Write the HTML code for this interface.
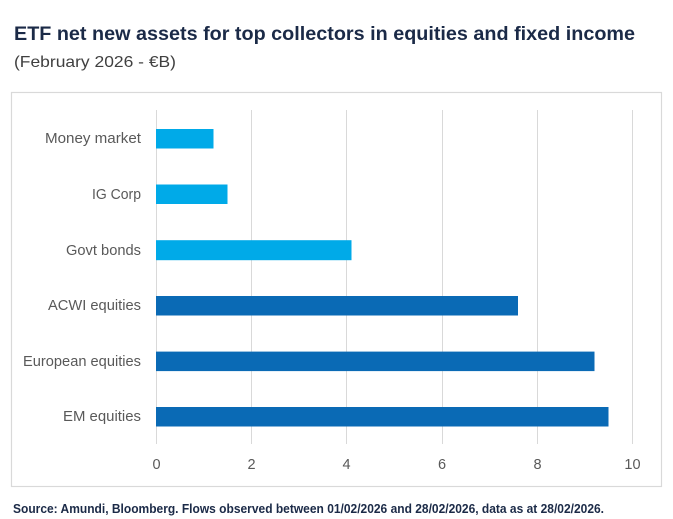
<!DOCTYPE html>
<html>
<head>
<meta charset="utf-8">
<style>
  html,body{margin:0;padding:0;background:#fff;}
  svg{display:block;}
  text{font-family:"Liberation Sans", sans-serif;}
</style>
</head>
<body>
<svg width="673" height="519" viewBox="0 0 673 519" xmlns="http://www.w3.org/2000/svg">
  <rect width="673" height="519" fill="#ffffff"/>
  <!-- Title -->
  <text x="14" y="40" font-size="19" font-weight="bold" fill="#1b2a47" textLength="621" lengthAdjust="spacingAndGlyphs">ETF net new assets for top collectors in equities and fixed income</text>
  <text x="14" y="67" font-size="16" fill="#404040" textLength="162" lengthAdjust="spacingAndGlyphs">(February 2026 - €B)</text>

  <!-- Chart box -->
  <rect x="11.5" y="92.5" width="650" height="394" fill="none" stroke="#d9d9d9" stroke-width="1.2"/>

  <!-- Gridlines -->
  <g stroke="#d9d9d9" stroke-width="1">
    <line x1="156.5" y1="110" x2="156.5" y2="444"/>
    <line x1="251.5" y1="110" x2="251.5" y2="444"/>
    <line x1="346.5" y1="110" x2="346.5" y2="444"/>
    <line x1="442.5" y1="110" x2="442.5" y2="444"/>
    <line x1="537.5" y1="110" x2="537.5" y2="444"/>
    <line x1="632.5" y1="110" x2="632.5" y2="444"/>
  </g>

  <!-- Bars -->
  <rect x="156" y="129" width="57.5" height="19.5" fill="#00aae8"/>
  <rect x="156" y="184.5" width="71.5" height="19.5" fill="#00aae8"/>
  <rect x="156" y="240.2" width="195.5" height="20" fill="#00aae8"/>
  <rect x="156" y="296" width="362" height="19.5" fill="#0a6ab5"/>
  <rect x="156" y="351.6" width="438.5" height="19.5" fill="#0a6ab5"/>
  <rect x="156" y="407" width="452.5" height="19.5" fill="#0a6ab5"/>

  <!-- Category labels -->
  <g font-size="14.5" fill="#595959" text-anchor="end">
    <text x="141" y="143" textLength="96" lengthAdjust="spacingAndGlyphs">Money market</text>
    <text x="141" y="199" textLength="49" lengthAdjust="spacingAndGlyphs">IG Corp</text>
    <text x="141" y="255" textLength="75" lengthAdjust="spacingAndGlyphs">Govt bonds</text>
    <text x="141" y="310" textLength="93" lengthAdjust="spacingAndGlyphs">ACWI equities</text>
    <text x="141" y="366" textLength="118" lengthAdjust="spacingAndGlyphs">European equities</text>
    <text x="141" y="421" textLength="78" lengthAdjust="spacingAndGlyphs">EM equities</text>
  </g>

  <!-- Tick labels -->
  <g font-size="14.5" fill="#595959" text-anchor="middle">
    <text x="156.5" y="469">0</text>
    <text x="251.5" y="469">2</text>
    <text x="346.5" y="469">4</text>
    <text x="442" y="469">6</text>
    <text x="537.5" y="469">8</text>
    <text x="632.5" y="469">10</text>
  </g>

  <!-- Source -->
  <text x="13" y="513" font-size="12.5" font-weight="bold" fill="#1b2a47" textLength="591" lengthAdjust="spacingAndGlyphs">Source: Amundi, Bloomberg. Flows observed between 01/02/2026 and 28/02/2026, data as at 28/02/2026.</text>
</svg>
</body>
</html>
